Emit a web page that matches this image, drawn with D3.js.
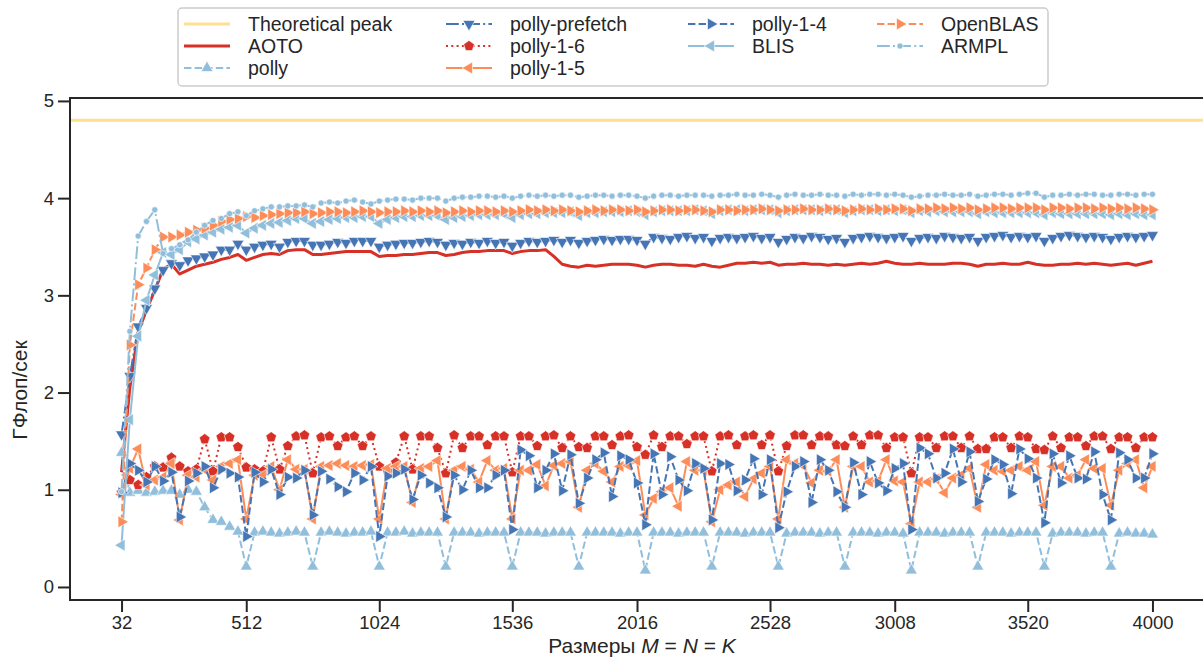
<!DOCTYPE html>
<html>
<head>
<meta charset="utf-8">
<script src="https://cdn.jsdelivr.net/npm/d3@7"></script>
<style>
  body { margin: 0; background: #fff; }
  svg text { font-family: "Liberation Sans", Arial, sans-serif; fill: #262626; }
</style>
</head>
<body>
<script>
// matrix sizes M = N = K (every 32 up to 4000)
const sizes = d3.range(32, 4001, 32);
const xTicks = [32, 512, 1024, 1536, 2016, 2528, 3008, 3520, 4000];
const yTicks = [0, 1, 2, 3, 4, 5];
const peak = 4.8;

const aoto = [
  1.18, 2.05, 2.62, 2.85, 3.05, 3.27, 3.32, 3.22, 3.26, 3.30,
  3.32, 3.34, 3.37, 3.39, 3.42, 3.36, 3.39, 3.42, 3.43, 3.42,
  3.46, 3.47, 3.47, 3.42, 3.42, 3.43, 3.44, 3.45, 3.45, 3.45,
  3.45, 3.40, 3.41, 3.41, 3.42, 3.42, 3.43, 3.44, 3.44, 3.41,
  3.42, 3.44, 3.45, 3.45, 3.46, 3.46, 3.46, 3.43, 3.45, 3.46,
  3.46, 3.47, 3.40, 3.32, 3.30, 3.29, 3.31, 3.30, 3.31, 3.32,
  3.32, 3.32, 3.31, 3.29, 3.31, 3.32, 3.32, 3.31, 3.31, 3.30,
  3.32, 3.30, 3.29, 3.31, 3.33, 3.33, 3.34, 3.33, 3.34, 3.31,
  3.32, 3.32, 3.33, 3.32, 3.32, 3.31, 3.32, 3.31, 3.32, 3.33,
  3.32, 3.33, 3.35, 3.33, 3.32, 3.32, 3.33, 3.32, 3.32, 3.32,
  3.33, 3.33, 3.32, 3.30, 3.32, 3.32, 3.33, 3.32, 3.32, 3.34,
  3.32, 3.31, 3.31, 3.32, 3.32, 3.33, 3.32, 3.33, 3.32, 3.31,
  3.32, 3.33, 3.31, 3.33, 3.35];

const polly = [
  1.38, 0.97, 0.99, 0.97, 0.98, 0.99, 0.99, 0.95, 1.00, 0.98,
  0.82, 0.69, 0.67, 0.62, 0.57, 0.21, 0.56, 0.57, 0.56, 0.55,
  0.56, 0.57, 0.56, 0.21, 0.56, 0.57, 0.56, 0.55, 0.56, 0.56,
  0.57, 0.21, 0.56, 0.56, 0.57, 0.55, 0.56, 0.56, 0.56, 0.21,
  0.56, 0.56, 0.56, 0.55, 0.56, 0.56, 0.56, 0.21, 0.56, 0.56,
  0.56, 0.55, 0.56, 0.56, 0.56, 0.21, 0.56, 0.56, 0.56, 0.56,
  0.55, 0.56, 0.56, 0.17, 0.56, 0.56, 0.56, 0.55, 0.56, 0.56,
  0.56, 0.21, 0.56, 0.56, 0.56, 0.55, 0.56, 0.56, 0.56, 0.21,
  0.55, 0.56, 0.56, 0.56, 0.55, 0.56, 0.56, 0.21, 0.56, 0.56,
  0.56, 0.55, 0.56, 0.56, 0.55, 0.17, 0.56, 0.56, 0.56, 0.55,
  0.56, 0.56, 0.56, 0.21, 0.56, 0.56, 0.56, 0.55, 0.56, 0.56,
  0.56, 0.21, 0.55, 0.56, 0.56, 0.56, 0.55, 0.56, 0.56, 0.21,
  0.55, 0.56, 0.55, 0.55, 0.54];

const pollyPrefetch = [
  1.57, 2.17, 2.68, 2.87, 3.07, 3.26, 3.33, 3.31, 3.36, 3.38,
  3.40, 3.42, 3.47, 3.47, 3.53, 3.47, 3.50, 3.52, 3.53, 3.50,
  3.55, 3.56, 3.56, 3.52, 3.52, 3.53, 3.55, 3.54, 3.56, 3.56,
  3.56, 3.50, 3.52, 3.53, 3.54, 3.54, 3.55, 3.56, 3.55, 3.52,
  3.54, 3.53, 3.55, 3.54, 3.56, 3.54, 3.55, 3.51, 3.54, 3.56,
  3.55, 3.56, 3.57, 3.55, 3.57, 3.54, 3.56, 3.57, 3.58, 3.57,
  3.58, 3.58, 3.57, 3.53, 3.60, 3.59, 3.58, 3.60, 3.61, 3.59,
  3.60, 3.56, 3.59, 3.60, 3.59, 3.60, 3.61, 3.59, 3.60, 3.55,
  3.58, 3.60, 3.59, 3.61, 3.60, 3.58, 3.59, 3.55, 3.59, 3.60,
  3.61, 3.60, 3.59, 3.60, 3.61, 3.56, 3.59, 3.60, 3.59, 3.61,
  3.60, 3.59, 3.60, 3.56, 3.60, 3.61, 3.62, 3.60, 3.61, 3.60,
  3.61, 3.56, 3.59, 3.61, 3.62, 3.61, 3.60, 3.61, 3.60, 3.58,
  3.60, 3.61, 3.60, 3.61, 3.62];

const polly16 = [
  0.97, 1.10, 1.05, 1.13, 1.24, 1.23, 1.33, 1.24, 1.19, 1.21,
  1.52, 1.19, 1.54, 1.54, 1.44, 1.23, 1.21, 1.19, 1.54, 1.21,
  1.45, 1.55, 1.56, 1.17, 1.54, 1.55, 1.45, 1.54, 1.55, 1.45,
  1.55, 1.24, 1.19, 1.28, 1.55, 1.21, 1.55, 1.55, 1.43, 1.17,
  1.56, 1.43, 1.55, 1.55, 1.46, 1.55, 1.55, 1.18, 1.55, 1.55,
  1.45, 1.55, 1.56, 1.43, 1.55, 1.44, 1.43, 1.55, 1.55, 1.46,
  1.55, 1.56, 1.44, 1.36, 1.56, 1.44, 1.55, 1.55, 1.47, 1.55,
  1.55, 1.19, 1.55, 1.56, 1.46, 1.55, 1.56, 1.46, 1.56, 1.19,
  1.45, 1.56, 1.56, 1.46, 1.55, 1.55, 1.46, 1.45, 1.55, 1.46,
  1.56, 1.56, 1.43, 1.54, 1.54, 1.17, 1.54, 1.54, 1.43, 1.55,
  1.55, 1.43, 1.55, 1.42, 1.42, 1.54, 1.54, 1.43, 1.55, 1.54,
  1.42, 1.41, 1.55, 1.43, 1.54, 1.54, 1.45, 1.55, 1.55, 1.42,
  1.54, 1.54, 1.43, 1.54, 1.54];

const polly15 = [
  0.95, 1.22, 1.42, 1.05, 1.10, 1.13, 1.27, 0.69, 1.15, 1.13,
  1.21, 1.10, 1.24, 1.27, 1.31, 0.70, 1.15, 1.15, 1.24, 1.00,
  1.31, 1.21, 1.21, 0.70, 1.24, 1.25, 1.27, 1.25, 1.24, 1.25,
  1.26, 0.70, 1.22, 1.24, 1.24, 0.87, 1.22, 1.24, 1.30, 0.70,
  1.20, 1.24, 1.21, 1.08, 1.30, 1.20, 1.22, 0.70, 1.20, 1.20,
  1.26, 1.04, 1.25, 1.27, 1.29, 0.82, 1.20, 1.27, 1.19, 1.08,
  1.24, 1.25, 1.30, 0.74, 0.91, 0.98, 1.02, 0.83, 1.29, 1.20,
  1.20, 0.67, 1.00, 1.05, 1.08, 0.93, 1.11, 1.17, 1.24, 0.70,
  1.31, 1.27, 1.25, 1.07, 1.20, 1.19, 1.31, 0.82, 1.24, 1.24,
  1.08, 1.09, 1.31, 1.09, 1.08, 0.65, 1.08, 1.08, 1.11, 0.97,
  1.12, 1.15, 1.22, 0.82, 1.26, 1.20, 1.19, 1.20, 1.24, 1.20,
  1.29, 0.84, 1.24, 1.24, 1.12, 1.15, 1.31, 1.22, 1.22, 0.84,
  1.20, 1.27, 1.31, 1.02, 1.24];

const polly14 = [
  0.97, 1.27, 1.20, 1.08, 1.24, 1.09, 1.18, 0.72, 1.09, 1.17,
  1.24, 1.02, 1.21, 1.17, 1.13, 0.52, 1.18, 1.08, 1.21, 0.95,
  1.13, 1.12, 1.20, 0.74, 1.19, 1.11, 1.03, 0.98, 1.17, 1.10,
  1.24, 0.52, 1.14, 1.17, 1.21, 0.90, 1.15, 1.07, 1.02, 0.72,
  1.15, 1.00, 1.20, 1.02, 1.02, 1.15, 1.20, 0.59, 1.41, 1.35,
  1.02, 1.20, 1.37, 0.99, 1.36, 0.86, 1.12, 1.31, 1.38, 0.93,
  1.35, 1.31, 1.07, 0.64, 1.37, 0.95, 1.34, 1.10, 0.99, 1.27,
  1.22, 0.69, 1.27, 1.26, 0.99, 1.10, 1.32, 0.95, 1.31, 0.61,
  0.98, 1.24, 1.29, 0.87, 1.31, 1.20, 0.98, 0.82, 1.28, 0.95,
  1.29, 1.07, 0.99, 1.22, 1.27, 0.59, 1.43, 1.37, 1.12, 1.17,
  1.42, 1.08, 1.39, 0.88, 1.11, 1.31, 1.26, 0.96, 1.42, 1.32,
  1.12, 0.66, 1.37, 1.07, 1.35, 1.12, 1.11, 1.39, 0.95, 0.69,
  1.38, 1.31, 1.12, 1.12, 1.37];

const blis = [
  0.43, 1.72, 2.58, 2.95, 3.21, 3.44, 3.42, 3.47, 3.55, 3.58,
  3.62, 3.65, 3.68, 3.70, 3.72, 3.64, 3.69, 3.72, 3.74, 3.75,
  3.77, 3.79, 3.79, 3.74, 3.76, 3.78, 3.79, 3.80, 3.80, 3.81,
  3.81, 3.74, 3.78, 3.80, 3.81, 3.81, 3.82, 3.82, 3.82, 3.78,
  3.80, 3.81, 3.82, 3.83, 3.83, 3.83, 3.84, 3.80, 3.83, 3.84,
  3.84, 3.85, 3.85, 3.85, 3.86, 3.82, 3.85, 3.85, 3.86, 3.86,
  3.86, 3.87, 3.86, 3.83, 3.86, 3.87, 3.87, 3.87, 3.87, 3.88,
  3.87, 3.84, 3.87, 3.88, 3.88, 3.87, 3.88, 3.88, 3.88, 3.85,
  3.87, 3.88, 3.88, 3.88, 3.87, 3.88, 3.88, 3.85, 3.87, 3.88,
  3.88, 3.87, 3.88, 3.87, 3.88, 3.85, 3.87, 3.86, 3.87, 3.86,
  3.86, 3.86, 3.86, 3.84, 3.86, 3.85, 3.85, 3.85, 3.85, 3.85,
  3.85, 3.83, 3.85, 3.84, 3.84, 3.84, 3.84, 3.84, 3.84, 3.83,
  3.84, 3.83, 3.84, 3.83, 3.83];

const openblas = [
  0.67, 2.49, 3.11, 3.28, 3.47, 3.60, 3.60, 3.62, 3.65, 3.67,
  3.69, 3.72, 3.76, 3.78, 3.79, 3.81, 3.80, 3.82, 3.83, 3.84,
  3.85, 3.85, 3.86, 3.84, 3.85, 3.86, 3.86, 3.85, 3.86, 3.87,
  3.86, 3.85, 3.86, 3.86, 3.87, 3.86, 3.87, 3.86, 3.87, 3.85,
  3.86, 3.87, 3.86, 3.87, 3.87, 3.86, 3.87, 3.86, 3.87, 3.88,
  3.87, 3.88, 3.87, 3.88, 3.87, 3.86, 3.87, 3.88, 3.87, 3.88,
  3.88, 3.87, 3.88, 3.86, 3.87, 3.88, 3.88, 3.87, 3.88, 3.88,
  3.87, 3.86, 3.88, 3.88, 3.87, 3.88, 3.88, 3.89, 3.88, 3.87,
  3.88, 3.88, 3.89, 3.88, 3.88, 3.89, 3.88, 3.87, 3.88, 3.89,
  3.88, 3.89, 3.88, 3.89, 3.89, 3.87, 3.89, 3.89, 3.90, 3.89,
  3.90, 3.89, 3.90, 3.88, 3.89, 3.90, 3.90, 3.89, 3.90, 3.90,
  3.90, 3.88, 3.90, 3.90, 3.89, 3.90, 3.90, 3.89, 3.90, 3.89,
  3.90, 3.89, 3.90, 3.89, 3.88];

const armpl = [
  0.98, 2.63, 3.61, 3.76, 3.88, 3.43, 3.48, 3.52, 3.57, 3.65,
  3.72, 3.77, 3.79, 3.84, 3.86, 3.82, 3.87, 3.89, 3.91, 3.91,
  3.92, 3.92, 3.93, 3.91, 3.95, 3.96, 3.95, 3.97, 3.98, 3.96,
  3.94, 3.97, 3.98, 3.99, 3.99, 3.98, 4.00, 4.00, 4.00, 3.97,
  4.00, 4.01, 4.01, 4.02, 4.02, 4.01, 4.02, 4.00, 4.02, 4.03,
  4.02, 4.03, 4.02, 4.03, 4.03, 4.01, 4.02, 4.03, 4.03, 4.02,
  4.03, 4.03, 4.02, 4.00, 4.02, 4.03, 4.03, 4.02, 4.03, 4.03,
  4.03, 4.02, 4.03, 4.03, 4.04, 4.03, 4.03, 4.04, 4.03, 4.01,
  4.03, 4.04, 4.03, 4.03, 4.04, 4.03, 4.03, 4.02, 4.04, 4.03,
  4.04, 4.04, 4.03, 4.04, 4.03, 4.01, 4.02, 4.03, 4.03, 4.04,
  4.03, 4.03, 4.04, 4.02, 4.03, 4.04, 4.04, 4.03, 4.04, 4.05,
  4.05, 4.01, 4.03, 4.03, 4.04, 4.03, 4.04, 4.04, 4.03, 4.03,
  4.04, 4.04, 4.03, 4.04, 4.04];

// RdYlBu-like colours
const cRed = "#d73027", cOrange = "#fc8d59", cYellow = "#fee090",
      cLight = "#91bfdb", cDark = "#4575b4";

const series = [
  {name: "AOTO", values: aoto, color: cRed, dash: null, width: 3, marker: null},
  {name: "polly", values: polly, color: cLight, dash: "7.4,3.2", width: 2, marker: "up"},
  {name: "polly-prefetch", values: pollyPrefetch, color: cDark, dash: "12.8,3.2,2,3.2", width: 2, marker: "down"},
  {name: "polly-1-6", values: polly16, color: cRed, dash: "2,3.3", width: 2, marker: "pent"},
  {name: "polly-1-5", values: polly15, color: cOrange, dash: null, width: 2, marker: "left"},
  {name: "polly-1-4", values: polly14, color: cDark, dash: "7.4,3.2", width: 2, marker: "right"},
  {name: "BLIS", values: blis, color: cLight, dash: null, width: 2, marker: "left"},
  {name: "OpenBLAS", values: openblas, color: cOrange, dash: "7.4,3.2", width: 2, marker: "right"},
  {name: "ARMPL", values: armpl, color: cLight, dash: "12.8,3.2,2,3.2", width: 2, marker: "dot"}
];

const width = 1203, height = 659;
const x = d3.scaleLinear().domain([-166.4, 4198.4]).range([70, 1204]);
const y = d3.scaleLinear().domain([-0.134, 5.03]).range([600, 98]);

const svg = d3.select("body").append("svg")
  .attr("width", width)
  .attr("height", height);

// marker paths
const tri = d3.symbol().type(d3.symbolTriangle).size(62)();
const circ = d3.symbol().type(d3.symbolCircle).size(30)();
function pentagon(r) {
  const pts = d3.range(5).map(k => {
    const a = -Math.PI / 2 + k * 2 * Math.PI / 5;
    return [r * Math.cos(a), r * Math.sin(a)];
  });
  return "M" + pts.map(p => p.join(",")).join("L") + "Z";
}
const markerShapes = {
  up: {d: tri, rot: 0},
  down: {d: tri, rot: 180},
  right: {d: tri, rot: 90},
  left: {d: tri, rot: -90},
  pent: {d: pentagon(5.6), rot: 0},
  dot: {d: circ, rot: 0}
};

function drawMarker(g, kind, color, px, py) {
  const m = markerShapes[kind];
  g.append("path")
    .attr("d", m.d)
    .attr("transform", `translate(${px},${py}) rotate(${m.rot})`)
    .attr("fill", color)
    .attr("stroke", "#fff")
    .attr("stroke-width", 0.6);
}

const plot = svg.append("g");

// theoretical peak
plot.append("line")
  .attr("x1", x.range()[0]).attr("x2", x.range()[1])
  .attr("y1", y(peak)).attr("y2", y(peak))
  .attr("stroke", cYellow)
  .attr("stroke-width", 3);

const line = d3.line().x((d, i) => x(sizes[i])).y(d => y(d));

series.forEach(s => {
  const g = plot.append("g").classed("series", true);
  g.append("path")
    .datum(s.values)
    .attr("d", line)
    .attr("fill", "none")
    .attr("stroke", s.color)
    .attr("stroke-width", s.width)
    .attr("stroke-dasharray", s.dash)
    .attr("stroke-linejoin", "round");
  if (s.marker) {
    s.values.forEach((v, i) => drawMarker(g, s.marker, s.color, x(sizes[i]), y(v)));
  }
});

// frame
svg.append("rect")
  .attr("x", 70).attr("y", 98)
  .attr("width", 1134).attr("height", 502)
  .attr("fill", "none")
  .attr("stroke", "#262626")
  .attr("stroke-width", 2);

// axes
const xAxis = svg.append("g")
  .attr("transform", "translate(0,600)")
  .call(d3.axisBottom(x).tickValues(xTicks).tickFormat(d3.format("d")).tickSize(12).tickPadding(4));
const yAxis = svg.append("g")
  .attr("transform", "translate(70,0)")
  .call(d3.axisLeft(y).tickValues(yTicks).tickFormat(d3.format("d")).tickSize(12).tickPadding(4));

[xAxis, yAxis].forEach(a => {
  a.select(".domain").remove();
  a.selectAll(".tick line").attr("stroke", "#262626").attr("stroke-width", 2);
  a.selectAll(".tick text")
    .attr("fill", "#262626")
    .style("font-size", "18.5px")
    .style("font-family", "'Liberation Sans', Arial, sans-serif");
});

// axis labels
const xl = svg.append("text")
  .attr("x", 642).attr("y", 653)
  .attr("text-anchor", "middle")
  .style("font-size", "21px");
xl.append("tspan").text("Размеры ");
xl.append("tspan").style("font-style", "italic").text("M");
xl.append("tspan").text(" = ");
xl.append("tspan").style("font-style", "italic").text("N");
xl.append("tspan").text(" = ");
xl.append("tspan").style("font-style", "italic").text("K");

svg.append("text")
  .attr("transform", "translate(27,390) rotate(-90)")
  .attr("text-anchor", "middle")
  .style("font-size", "21px")
  .text("ГФлоп/сек");

// legend: column-major, 3 rows
const legendItems = [{name: "Theoretical peak", color: cYellow, dash: null, width: 3, marker: null}]
  .concat(series);
const colX = [184, 446, 688, 877];
const rowY = [24, 46, 68];
const colRows = [3, 3, 2, 2];

const legend = svg.append("g");
legend.append("rect")
  .attr("x", 178).attr("y", 8)
  .attr("width", 870).attr("height", 78)
  .attr("rx", 4)
  .attr("fill", "#fff")
  .attr("stroke", "#cccccc")
  .attr("stroke-width", 1.5);

let k = 0;
colRows.forEach((n, c) => {
  for (let r = 0; r < n; r++) {
    const it = legendItems[k++];
    const lx = colX[c], ly = rowY[r];
    legend.append("line")
      .attr("x1", lx).attr("x2", lx + 46)
      .attr("y1", ly).attr("y2", ly)
      .attr("stroke", it.color)
      .attr("stroke-width", it.width)
      .attr("stroke-dasharray", it.dash);
    if (it.marker) drawMarker(legend, it.marker, it.color, lx + 23, ly);
    legend.append("text")
      .attr("x", lx + 64).attr("y", ly + 7)
      .style("font-size", "19.5px")
      .text(it.name);
  }
});
</script>
</body>
</html>
